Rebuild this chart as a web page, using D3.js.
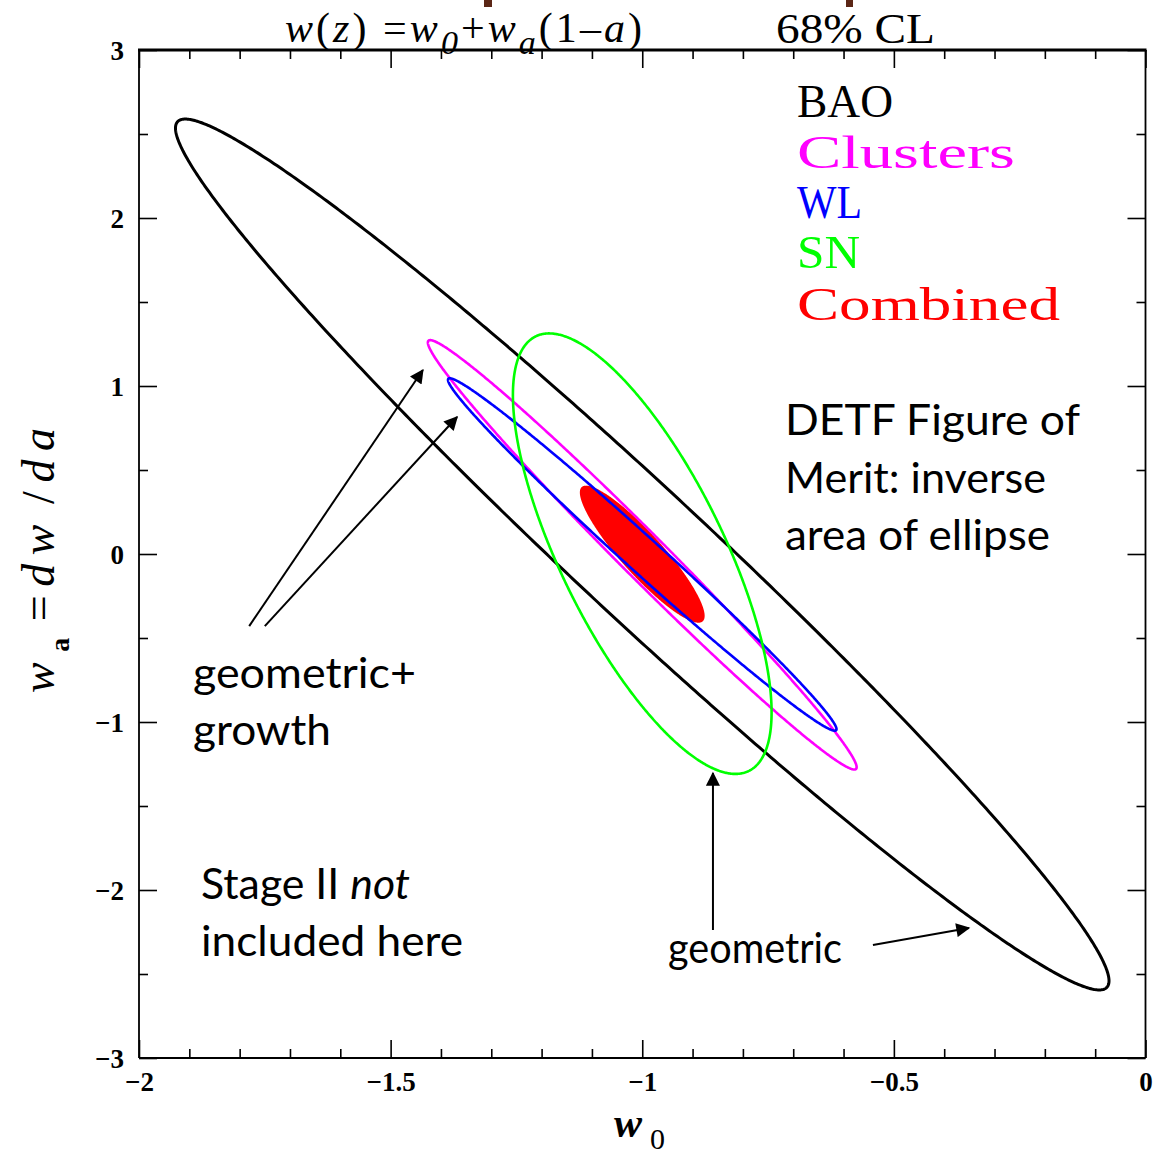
<!DOCTYPE html>
<html>
<head>
<meta charset="utf-8">
<script src="https://cdn.jsdelivr.net/npm/d3@7"></script>
<style>
  html, body { margin: 0; padding: 0; background: #fff; }
  svg { display: block; }
</style>
</head>
<body>
<svg id="chart" width="1165" height="1157"></svg>
<script>
// ---------------- DATA ----------------
// Axis ticks
const xMajorTicks = [-2, -1.5, -1, -0.5, 0];
const xTickLabels = ["\u22122", "\u22121.5", "\u22121", "\u22120.5", "0"];
const yMajorTicks = [3, 2, 1, 0, -1, -2, -3];
const yTickLabels = ["3", "2", "1", "0", "\u22121", "\u22122", "\u22123"];

// 68% CL ellipses (w0, wa): centre, half-extent along each axis, correlation
const seriesNames = ["BAO", "Clusters", "WL", "SN", "Combined"];
const centerW0   = [-1.000, -1.000, -1.000, -1.000, -1.000];
const centerWa   = [-0.003, -0.005, -0.003, 0.002, -0.001];
const halfW0     = [0.9275, 0.426, 0.386, 0.257, 0.124];
const halfWa     = [2.592, 1.278, 1.049, 1.311, 0.408];
const corr       = [-0.979, -0.989, -0.991, -0.72, -0.90];

// Annotation arrows in data coordinates [w0 start, wa start, w0 end, wa end]
const arrowStartW0 = [-1.781, -1.750, -0.8595, -0.5416];
const arrowStartWa = [-0.429, -0.429, -2.238, -2.327];
const arrowEndW0   = [-1.436, -1.368, -0.8595, -0.3509];
const arrowEndWa   = [1.095, 0.8155, -1.304, -2.226];

// Annotation texts
const noteLines = ["DETF Figure of", "Merit: inverse", "area of ellipse"];
const growthLines = ["geometric+", "growth"];
const stageLines = ["Stage II ", "not", "included here"];
const geomLabel = "geometric";

// ---------------- STYLE ----------------
const seriesColors = ["#000000", "#ff00ff", "#0000ff", "#00ff00", "#ff0000"];
const seriesWidths = [3, 2.6, 2.6, 2.6, 0];
const seriesFilled = [false, false, false, false, true];

const svg = d3.select("#chart");
const x = d3.scaleLinear().domain([-2, 0]).range([139, 1145.5]);
const y = d3.scaleLinear().domain([-3, 3]).range([1058, 50]);

// top slide fragments
svg.append("rect").attr("x", 484).attr("y", 0).attr("width", 8).attr("height", 7).attr("fill", "#5b2616");
svg.append("rect").attr("x", 846).attr("y", 0).attr("width", 7).attr("height", 7).attr("fill", "#5b2616");

// ---------------- AXES ----------------
const xMinor = d3.range(-2, 0.0001, 0.1).map(v => +v.toFixed(2)).filter(v => !xMajorTicks.some(m => Math.abs(m - v) < 1e-6));
const yMinor = d3.range(-3, 3.0001, 0.5).map(v => +v.toFixed(2)).filter(v => !yMajorTicks.some(m => Math.abs(m - v) < 1e-6));

const axesG = svg.append("g").attr("class", "axes");
function addAxis(axisFn, scale, transform, values, size) {
  const g = axesG.append("g").attr("transform", transform)
    .call(axisFn(scale).tickValues(values).tickSize(-size).tickSizeOuter(0).tickFormat(""));
  g.select(".domain").remove();
  g.selectAll(".tick line").attr("stroke", "#000").attr("stroke-width", 1.6);
  return g;
}
const bottomT = `translate(0,${y(-3)})`, topT = `translate(0,${y(3)})`;
const leftT = `translate(${x(-2)},0)`, rightT = `translate(${x(0)},0)`;
addAxis(d3.axisBottom, x, bottomT, xMajorTicks, 18);
addAxis(d3.axisBottom, x, bottomT, xMinor, 9);
addAxis(d3.axisTop, x, topT, xMajorTicks, 18);
addAxis(d3.axisTop, x, topT, xMinor, 9);
addAxis(d3.axisLeft, y, leftT, yMajorTicks, 18);
addAxis(d3.axisLeft, y, leftT, yMinor, 9);
addAxis(d3.axisRight, y, rightT, yMajorTicks, 18);
addAxis(d3.axisRight, y, rightT, yMinor, 9);

// frame
axesG.append("line").attr("x1", x(-2)).attr("x2", x(-2)).attr("y1", y(3)).attr("y2", y(-3)).attr("stroke", "#000").attr("stroke-width", 1.8);
axesG.append("line").attr("x1", x(0)).attr("x2", x(0)).attr("y1", y(3)).attr("y2", y(-3)).attr("stroke", "#000").attr("stroke-width", 1.8);
axesG.append("line").attr("x1", x(-2)).attr("x2", x(0)).attr("y1", y(-3)).attr("y2", y(-3)).attr("stroke", "#000").attr("stroke-width", 1.8);
axesG.append("line").attr("x1", x(-2) - 1).attr("x2", x(0) + 1).attr("y1", y(3)).attr("y2", y(3)).attr("stroke", "#000").attr("stroke-width", 2.8);

// tick labels
const tickFont = "'Liberation Serif', 'DejaVu Serif', serif";
const xl = axesG.append("g").attr("transform", `translate(0,${y(-3)})`)
  .call(d3.axisBottom(x).tickValues(xMajorTicks).tickSize(0).tickPadding(0)
    .tickFormat((d, i) => xTickLabels[i]));
xl.select(".domain").remove();
xl.selectAll("text").attr("dy", null).attr("y", 33).attr("font-family", tickFont)
  .attr("font-weight", "bold").attr("font-size", 27).attr("fill", "#000");

const yl = axesG.append("g").attr("transform", `translate(${x(-2)},0)`)
  .call(d3.axisLeft(y).tickValues(yMajorTicks).tickSize(0).tickPadding(0)
    .tickFormat((d, i) => yTickLabels[i]));
yl.select(".domain").remove();
yl.selectAll("text").attr("dy", null).attr("x", -15).attr("y", 9).attr("font-family", tickFont)
  .attr("font-weight", "bold").attr("font-size", 27).attr("fill", "#000").attr("text-anchor", "end");

// axis titles
const xt = svg.append("text").attr("x", 614).attr("y", 1137)
  .attr("font-family", tickFont).attr("font-size", 42).attr("font-style", "italic").attr("font-weight", "bold");
xt.append("tspan").text("w");
xt.append("tspan").attr("dx", 8).attr("dy", 12).attr("font-size", 30).attr("font-style", "normal").attr("font-weight", "normal").text("0");

const yt = svg.append("text").attr("transform", "translate(54,693) rotate(-90)")
  .attr("font-family", tickFont).attr("font-size", 46).attr("font-style", "italic")
  .attr("textLength", 265).attr("lengthAdjust", "spacing");
yt.append("tspan").text("w");
yt.append("tspan").attr("dx", 2).attr("dy", 15).attr("font-size", 28).attr("font-style", "normal").attr("font-weight", "bold").text("a");
yt.append("tspan").attr("dx", 8).attr("dy", -15).attr("font-style", "normal").text("=");
yt.append("tspan").text("dw");
yt.append("tspan").attr("dx", 12).attr("font-style", "normal").text("/");
yt.append("tspan").text("da");

// title
const titleFont = "'Liberation Serif', 'Times New Roman', serif";
const tt = svg.append("text").attr("x", 285).attr("y", 42).attr("font-family", titleFont).attr("font-size", 42)
  .attr("textLength", 357).attr("lengthAdjust", "spacing");
tt.append("tspan").attr("font-style", "italic").text("w");
tt.append("tspan").text("(");
tt.append("tspan").attr("font-style", "italic").text("z");
tt.append("tspan").text(") =");
tt.append("tspan").attr("font-style", "italic").text("w");
tt.append("tspan").attr("font-style", "italic").attr("font-size", 34).attr("dy", 12).text("0");
tt.append("tspan").attr("dy", -12).text("+");
tt.append("tspan").attr("font-style", "italic").text("w");
tt.append("tspan").attr("font-style", "italic").attr("font-size", 34).attr("dy", 12).text("a");
tt.append("tspan").attr("dy", -12).text("(1\u2013");
tt.append("tspan").attr("font-style", "italic").text("a");
tt.append("tspan").text(")");
svg.append("text").attr("x", 776).attr("y", 43).attr("font-family", titleFont).attr("font-size", 43)
  .attr("textLength", 159).attr("lengthAdjust", "spacingAndGlyphs").text("68% CL");

// ---------------- ELLIPSES ----------------
const thetas = d3.range(0, 2 * Math.PI + 0.001, Math.PI / 360);
function ellipsePoints(i) {
  const s = Math.sqrt(1 - corr[i] * corr[i]);
  return thetas.map(t => [
    x(centerW0[i] + halfW0[i] * Math.cos(t)),
    y(centerWa[i] + halfWa[i] * (corr[i] * Math.cos(t) + s * Math.sin(t)))
  ]);
}
const line = d3.line().curve(d3.curveLinearClosed);
const ellG = svg.append("g").attr("class", "ellipses");
const order = [4, 0, 1, 2, 3];
order.forEach(i => {
  ellG.append("path")
    .attr("d", line(ellipsePoints(i)))
    .attr("fill", seriesFilled[i] ? seriesColors[i] : "none")
    .attr("stroke", seriesFilled[i] ? "none" : seriesColors[i])
    .attr("stroke-width", seriesWidths[i])
    .attr("stroke-linejoin", "round");
});

// ---------------- LEGEND ----------------
const legendFont = "'Liberation Serif', 'Times New Roman', serif";
const legendBaselines = [117, 168, 218, 268, 320];
const legendLengths = [96, 218, 65, 63, 263];
const lg = svg.append("g").attr("class", "legend");
seriesNames.forEach((n, i) => {
  lg.append("text").attr("x", 797).attr("y", legendBaselines[i])
    .attr("font-family", legendFont).attr("font-size", 47)
    .attr("fill", seriesColors[i])
    .attr("textLength", legendLengths[i]).attr("lengthAdjust", "spacingAndGlyphs")
    .text(n);
});

// ---------------- ANNOTATIONS ----------------
const annFont = "Lato, 'Open Sans', sans-serif";
const ann = svg.append("g").attr("class", "annotations");
const noteY = [435, 493, 550];
const noteLen = [295, 261, 265];
noteLines.forEach((t, i) => {
  ann.append("text").attr("x", 785).attr("y", noteY[i]).attr("font-family", annFont).attr("font-size", 42)
    .attr("textLength", noteLen[i]).attr("lengthAdjust", "spacingAndGlyphs").text(t);
});
const growY = [688, 745];
const growLen = [223, 138];
growthLines.forEach((t, i) => {
  ann.append("text").attr("x", 193).attr("y", growY[i]).attr("font-family", annFont).attr("font-size", 42)
    .attr("textLength", growLen[i]).attr("lengthAdjust", "spacingAndGlyphs").text(t);
});
const st = ann.append("text").attr("x", 201).attr("y", 899).attr("font-family", annFont).attr("font-size", 42)
  .attr("textLength", 209).attr("lengthAdjust", "spacingAndGlyphs");
st.append("tspan").text(stageLines[0]);
st.append("tspan").attr("font-style", "italic").text(stageLines[1]);
ann.append("text").attr("x", 201).attr("y", 956).attr("font-family", annFont).attr("font-size", 42)
  .attr("textLength", 262).attr("lengthAdjust", "spacingAndGlyphs").text(stageLines[2]);
ann.append("text").attr("x", 668).attr("y", 963).attr("font-family", annFont).attr("font-size", 42)
  .attr("textLength", 174).attr("lengthAdjust", "spacingAndGlyphs").text(geomLabel);

// arrows
const defs = svg.append("defs");
defs.append("marker").attr("id", "ah").attr("viewBox", "0 0 10 10").attr("refX", 9).attr("refY", 5)
  .attr("markerWidth", 16).attr("markerHeight", 14).attr("markerUnits", "userSpaceOnUse").attr("orient", "auto")
  .append("path").attr("d", "M0,0 L10,5 L0,10 Z").attr("fill", "#000");
arrowStartW0.forEach((v, i) => {
  ann.append("line")
    .attr("x1", x(arrowStartW0[i])).attr("y1", y(arrowStartWa[i]))
    .attr("x2", x(arrowEndW0[i])).attr("y2", y(arrowEndWa[i]))
    .attr("stroke", "#000").attr("stroke-width", 2).attr("marker-end", "url(#ah)");
});
</script>
</body>
</html>
